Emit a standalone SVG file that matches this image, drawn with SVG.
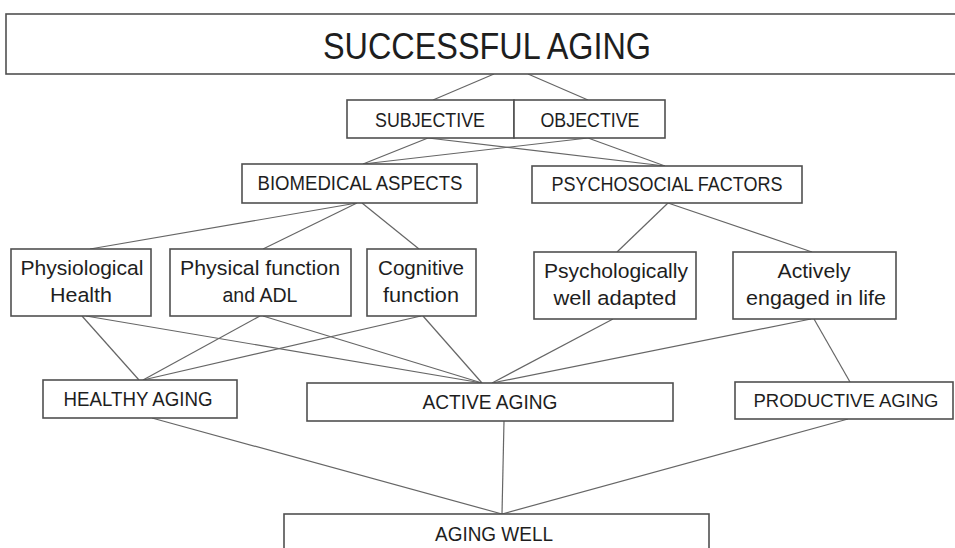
<svg xmlns="http://www.w3.org/2000/svg" width="955" height="548" viewBox="0 0 955 548">
<style>
.box{fill:#fff;stroke:#505050;stroke-width:1.6}
.lbl{font-family:"Liberation Sans",Arial,sans-serif;fill:#1e1e1e;text-anchor:middle}
.cap{font-size:20.5px}
.two{font-size:20.5px}
#connectors line{stroke:#666;stroke-width:1.2}
</style>
<rect width="955" height="548" fill="#fff"/>
<g id="connectors">
<line x1="494" y1="74" x2="433" y2="100"/>
<line x1="528" y1="74" x2="588" y2="100"/>
<line x1="428" y1="138" x2="363" y2="164"/>
<line x1="428" y1="138" x2="665" y2="166"/>
<line x1="588" y1="138" x2="363" y2="164"/>
<line x1="588" y1="138" x2="665" y2="166"/>
<line x1="357" y1="203" x2="90" y2="249"/>
<line x1="357" y1="203" x2="263" y2="249"/>
<line x1="362" y1="203" x2="419" y2="249"/>
<line x1="668" y1="203" x2="617" y2="252"/>
<line x1="668" y1="203" x2="812" y2="252"/>
<line x1="82" y1="316" x2="139" y2="380"/>
<line x1="86" y1="316" x2="482" y2="383"/>
<line x1="260" y1="316" x2="143" y2="380"/>
<line x1="263" y1="316" x2="482" y2="383"/>
<line x1="421" y1="316" x2="143" y2="380"/>
<line x1="423" y1="316" x2="482" y2="383"/>
<line x1="613" y1="319" x2="492" y2="383"/>
<line x1="811" y1="319" x2="492" y2="383"/>
<line x1="814" y1="319" x2="850" y2="382"/>
<line x1="152" y1="418" x2="502" y2="514"/>
<line x1="504" y1="421" x2="502" y2="514"/>
<line x1="848" y1="419" x2="502" y2="514"/>
</g>
<g id="successful-aging">
<rect class="box" x="6" y="14" width="955" height="60"/>
<text class="lbl" x="487" y="59" font-size="36" textLength="328" lengthAdjust="spacingAndGlyphs">SUCCESSFUL AGING</text>
</g>
<g id="subjective">
<rect class="box" x="347" y="100" width="167" height="38"/>
<text class="lbl cap" x="430" y="127" textLength="110" lengthAdjust="spacingAndGlyphs">SUBJECTIVE</text>
</g>
<g id="objective">
<rect class="box" x="514" y="100" width="151" height="38"/>
<text class="lbl cap" x="590" y="127" textLength="99" lengthAdjust="spacingAndGlyphs">OBJECTIVE</text>
</g>
<g id="biomedical">
<rect class="box" x="242" y="164" width="235" height="39"/>
<text class="lbl cap" x="360" y="190" textLength="205" lengthAdjust="spacingAndGlyphs">BIOMEDICAL ASPECTS</text>
</g>
<g id="psychosocial">
<rect class="box" x="532" y="166" width="270" height="37"/>
<text class="lbl cap" x="667" y="191" textLength="231" lengthAdjust="spacingAndGlyphs">PSYCHOSOCIAL FACTORS</text>
</g>
<g id="physiological">
<rect class="box" x="11" y="249" width="140" height="67"/>
<text class="lbl two" x="82" y="275" textLength="123" lengthAdjust="spacingAndGlyphs">Physiological</text>
<text class="lbl two" x="81" y="302" textLength="62" lengthAdjust="spacingAndGlyphs">Health</text>
</g>
<g id="physical">
<rect class="box" x="170" y="249" width="181" height="67"/>
<text class="lbl two" x="260" y="275" textLength="160" lengthAdjust="spacingAndGlyphs">Physical function</text>
<text class="lbl two" x="260" y="302" textLength="75" lengthAdjust="spacingAndGlyphs">and ADL</text>
</g>
<g id="cognitive">
<rect class="box" x="367" y="249" width="109" height="67"/>
<text class="lbl two" x="421" y="275" textLength="86" lengthAdjust="spacingAndGlyphs">Cognitive</text>
<text class="lbl two" x="421" y="302" textLength="76" lengthAdjust="spacingAndGlyphs">function</text>
</g>
<g id="psychologically">
<rect class="box" x="534" y="252" width="162" height="67"/>
<text class="lbl two" x="616" y="278" textLength="144" lengthAdjust="spacingAndGlyphs">Psychologically</text>
<text class="lbl two" x="615" y="305" textLength="123" lengthAdjust="spacingAndGlyphs">well adapted</text>
</g>
<g id="actively">
<rect class="box" x="733" y="252" width="163" height="67"/>
<text class="lbl two" x="814" y="278" textLength="73" lengthAdjust="spacingAndGlyphs">Actively</text>
<text class="lbl two" x="816" y="305" textLength="140" lengthAdjust="spacingAndGlyphs">engaged in life</text>
</g>
<g id="healthy-aging">
<rect class="box" x="43" y="380" width="194" height="38"/>
<text class="lbl cap" x="138" y="406" textLength="149" lengthAdjust="spacingAndGlyphs">HEALTHY AGING</text>
</g>
<g id="active-aging">
<rect class="box" x="307" y="383" width="366" height="38"/>
<text class="lbl cap" x="490" y="409" textLength="135" lengthAdjust="spacingAndGlyphs">ACTIVE AGING</text>
</g>
<g id="productive-aging">
<rect class="box" x="735" y="382" width="218" height="37"/>
<text class="lbl" x="846" y="407" font-size="19" textLength="185" lengthAdjust="spacingAndGlyphs">PRODUCTIVE AGING</text>
</g>
<g id="aging-well">
<rect class="box" x="284" y="514" width="425" height="45"/>
<text class="lbl cap" x="494" y="541" textLength="118" lengthAdjust="spacingAndGlyphs">AGING WELL</text>
</g>
</svg>
